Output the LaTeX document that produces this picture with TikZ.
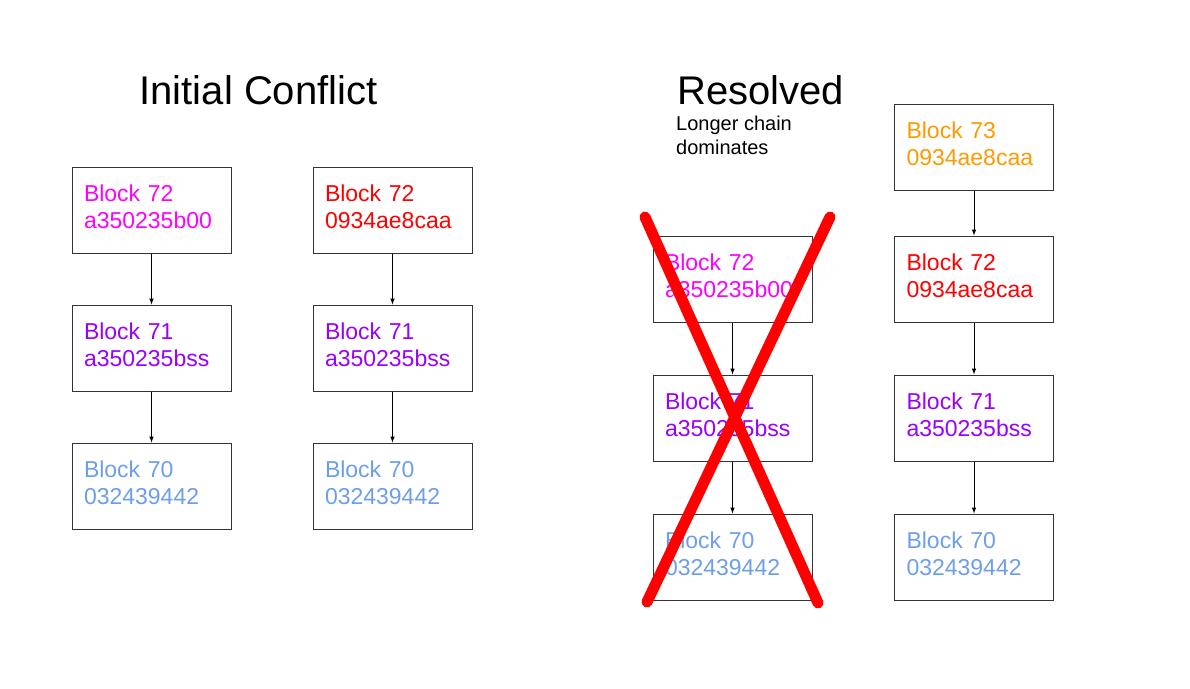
\documentclass[tikz,border=0pt]{standalone}
\usepackage{fontspec}
\setmainfont{Liberation Sans}
\usetikzlibrary{positioning}
\definecolor{hashMagenta}{HTML}{FF00FF}
\definecolor{hashRed}{HTML}{FF0000}
\definecolor{hashPurple}{HTML}{9900FF}
\definecolor{hashBlue}{HTML}{6D9EEB}
\definecolor{hashOrange}{HTML}{FF9900}
\newcommand{\tikzBlockText}[2]{Block #1\\#2}

\begin{document}
\begin{tikzpicture}[x=1pt,y=-1pt,
  blockBox/.style={draw=black!80, line width=1pt, minimum width=159pt, minimum height=86pt,
    text width=135pt, inner xsep=12pt, align=left, text depth=34.5pt,
    font=\fontsize{23}{27}\selectfont},
  chainArrow/.style={-latex, line width=1pt},
  node distance=51pt]
  \useasboundingbox (0,0) rectangle (1190,688);

  % titles
  \node[anchor=base, inner sep=0pt, font=\fontsize{40}{44}\selectfont] (conflictTitle) at (258.5,104) {Initial Conflict};
  \node[anchor=base west, inner sep=0pt, font=\fontsize{40}{44}\selectfont] (resolvedTitle) at (677,104) {Resolved};
  \node[anchor=north west, inner sep=0pt, align=left, font=\fontsize{20}{24}\selectfont] (resolvedNote) at (676,115.5) {Longer chain\\dominates};

  % initial conflict, first chain
  \node[blockBox, text=hashMagenta] (leftA) at (151.5,210) {\tikzBlockText{72}{a350235b00}};
  \node[blockBox, text=hashPurple, below=of leftA] (leftB) {\tikzBlockText{71}{a350235bss}};
  \node[blockBox, text=hashBlue, below=of leftB] (leftC) {\tikzBlockText{70}{032439442}};
  % initial conflict, second chain
  \node[blockBox, text=hashRed] (rightA) at (392.5,210) {\tikzBlockText{72}{0934ae8caa}};
  \node[blockBox, text=hashPurple, below=of rightA] (rightB) {\tikzBlockText{71}{a350235bss}};
  \node[blockBox, text=hashBlue, below=of rightB] (rightC) {\tikzBlockText{70}{032439442}};

  \draw[chainArrow] (leftA) -- (leftB);
  \draw[chainArrow] (leftB) -- (leftC);
  \draw[chainArrow] (rightA) -- (rightB);
  \draw[chainArrow] (rightB) -- (rightC);

  % resolved, dropped chain
  \node[blockBox, text=hashMagenta] (lostA) at (732.5,279) {\tikzBlockText{72}{a350235b00}};
  \node[blockBox, text=hashPurple, below=52pt of lostA] (lostB) {\tikzBlockText{71}{a350235bss}};
  \node[blockBox, text=hashBlue, below=52pt of lostB] (lostC) {\tikzBlockText{70}{032439442}};
  % resolved, kept chain
  \node[blockBox, text=hashOrange] (keptD) at (974,147) {\tikzBlockText{73}{0934ae8caa}};
  \node[blockBox, text=hashRed, below=45pt of keptD] (keptA) {\tikzBlockText{72}{0934ae8caa}};
  \node[blockBox, text=hashPurple, below=52pt of keptA] (keptB) {\tikzBlockText{71}{a350235bss}};
  \node[blockBox, text=hashBlue, below=52pt of keptB] (keptC) {\tikzBlockText{70}{032439442}};

  \draw[chainArrow] (lostA) -- (lostB);
  \draw[chainArrow] (lostB) -- (lostC);
  \draw[chainArrow] (keptD) -- (keptA);
  \draw[chainArrow] (keptA) -- (keptB);
  \draw[chainArrow] (keptB) -- (keptC);

  % red cross
  \draw[hashRed, line width=11pt, line cap=round] (645,217) -- (818,603);
  \draw[hashRed, line width=11pt, line cap=round] (830,217) -- (647,602);
\end{tikzpicture}
\end{document}
